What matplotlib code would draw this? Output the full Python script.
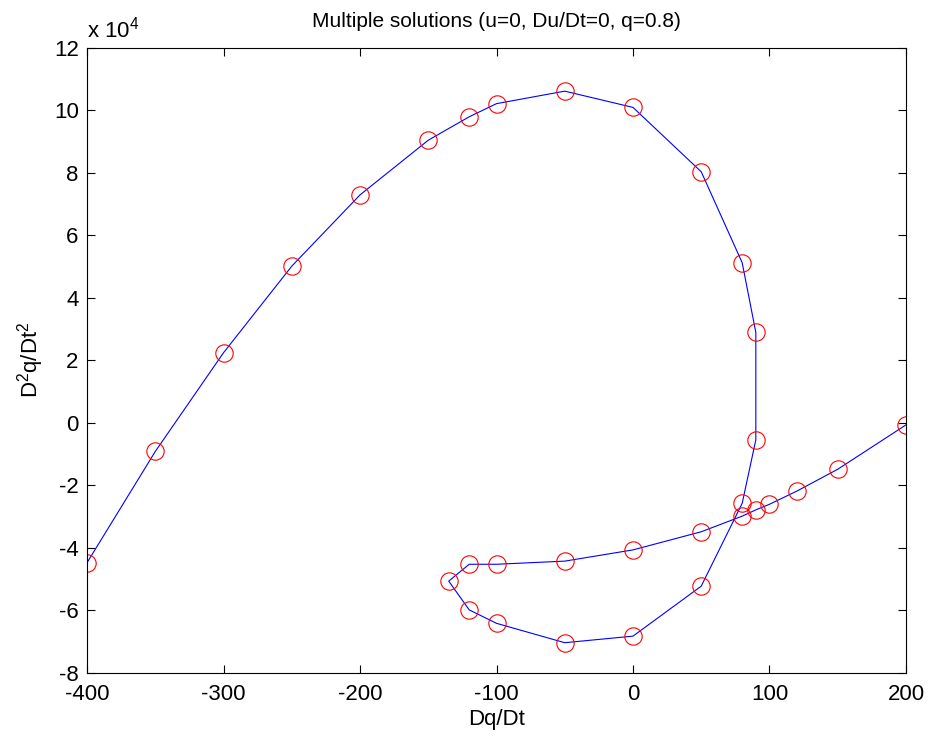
import matplotlib
matplotlib.use("Agg")
import matplotlib.pyplot as plt
from matplotlib.ticker import FuncFormatter, MultipleLocator

plt.rcParams['font.family'] = ['Liberation Sans', 'DejaVu Sans']
plt.rcParams['mathtext.fontset'] = 'custom'
plt.rcParams['mathtext.rm'] = 'Liberation Sans'
plt.rcParams['mathtext.it'] = 'Liberation Sans'
plt.rcParams['axes.unicode_minus'] = False

# Solution branch traced in the (Dq/Dt, D^2q/Dt^2) plane
dq_dt = [-400, -350, -300, -250, -200, -150, -120, -100, -50, 0, 50, 80, 90, 90,
         80, 50, 0, -50, -100, -120, -135, -120, -100, -50, 0, 50, 80, 90, 100,
         120, 150, 200]
d2q_dt2 = [-4.48e4, -0.92e4, 2.24e4, 5.01e4, 7.29e4, 9.04e4, 9.79e4, 10.21e4,
           10.61e4, 10.09e4, 8.03e4, 5.12e4, 2.89e4, -0.55e4,
           -2.58e4, -5.23e4, -6.83e4, -7.04e4, -6.42e4, -5.99e4, -5.07e4,
           -4.53e4, -4.53e4, -4.43e4, -4.07e4, -3.49e4, -2.99e4, -2.79e4,
           -2.61e4, -2.19e4, -1.49e4, -0.07e4]

fig = plt.figure(figsize=(9.29, 7.42), dpi=100)
ax = fig.add_axes([0.0937, 0.0934, 0.8815, 0.8423])

ax.plot(dq_dt, d2q_dt2, color='blue', linewidth=0.8)
ax.plot(dq_dt, d2q_dt2, linestyle='none', marker='o', markersize=12.5,
        markerfacecolor='none', markeredgecolor='red', markeredgewidth=0.8)

ax.set_xlim(-400, 200)
ax.set_ylim(-8e4, 12e4)
ax.xaxis.set_major_locator(MultipleLocator(100))
ax.yaxis.set_major_locator(MultipleLocator(2e4))
ax.yaxis.set_major_formatter(FuncFormatter(lambda v, p: f"{v / 1e4:g}"))
ax.tick_params(direction='in', length=6, width=0.8, labelsize=16,
               top=True, right=True)
ax.tick_params(axis='x', pad=8)
ax.tick_params(axis='y', pad=6)
for s in ax.spines.values():
    s.set_linewidth(0.8)

ax.set_xlabel('Dq/Dt', fontsize=16, labelpad=3)
ax.set_ylabel('D$^2$q/Dt$^2$', fontsize=16, labelpad=6)
ax.set_title('Multiple solutions (u=0, Du/Dt=0, q=0.8)', fontsize=15, pad=15)
ax.text(0.0, 1.008, 'x 10$^4$', transform=ax.transAxes, fontsize=16,
        ha='left', va='bottom')

fig.savefig('out.png', dpi=100)
